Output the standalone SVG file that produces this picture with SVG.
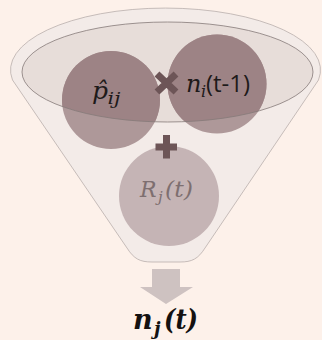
<svg xmlns="http://www.w3.org/2000/svg" width="322" height="340" viewBox="0 0 322 340">
  <style>
    .math { font-family: "DejaVu Serif", "Liberation Serif", serif; font-style: italic; }
    .sans { font-family: "Open Sans", "Liberation Sans", sans-serif; }
    .op { stroke: #6d5557; stroke-width: 7; fill: none; }
    .upper { fill: #ae9899; }
  </style>
  <defs>
    <clipPath id="rimClip">
      <ellipse cx="167.5" cy="72" rx="145.5" ry="50"/>
    </clipPath>
  </defs>
  <rect width="322" height="340" fill="#fdf1ea"/>

  <g id="funnel">
    <path d="M 12.5,80 A 155 62 0 1 1 318.5,80 L 205,248 C 198,259 192,262 180,262 L 152,262 C 140,262 134,259 127,248 Z" fill="#f3ebe8" stroke="#b9afac" stroke-width="0.8"/>
    <ellipse cx="167.5" cy="72" rx="145.5" ry="50" fill="#e7ddd9"/>
  </g>

  <g id="node-p-ij">
    <circle class="upper" cx="111" cy="100" r="49"/>
    <circle cx="111" cy="100" r="49" fill="#9d8385" clip-path="url(#rimClip)"/>
  </g>
  <g id="node-n-i">
    <circle class="upper" cx="217" cy="84" r="49.5"/>
    <circle cx="217" cy="84" r="49.5" fill="#9d8385" clip-path="url(#rimClip)"/>
  </g>
  <g id="rim">
    <ellipse cx="167.5" cy="72" rx="145.5" ry="50" fill="none" stroke="#857a79" stroke-width="0.8"/>
  </g>
  <g id="node-R-j">
    <circle cx="169" cy="196" r="50" fill="#c5b4b5"/>
  </g>

  <g id="labels">
    <text class="math" x="92" y="99" font-size="25" fill="#1e1a1a">p̂</text>
    <text class="math" x="107.5" y="104" font-size="16" fill="#1e1a1a" textLength="13" lengthAdjust="spacingAndGlyphs">ij</text>
    <text class="math" x="186" y="92" font-size="24" fill="#1e1a1a">n</text>
    <text class="math" x="201" y="97" font-size="16" fill="#1e1a1a">i</text>
    <text class="sans" x="206" y="92" font-size="23" fill="#1e1a1a" textLength="44" lengthAdjust="spacingAndGlyphs">(t-1)</text>
    <text class="math" x="140" y="197" font-size="22" fill="#7e6f70">R</text>
    <text class="math" x="158" y="202" font-size="15" fill="#7e6f70">j</text>
    <text class="math" x="165" y="197" font-size="22" fill="#7e6f70" textLength="28" lengthAdjust="spacingAndGlyphs">(t)</text>
  </g>

  <g id="operators">
    <path class="op" d="M 157,74 L 176,92 M 176,74 L 157,92"/>
    <path class="op" d="M 155.5,147 H 177 M 166.5,135 V 158.5"/>
  </g>

  <g id="connectors">
    <polygon points="152,269 180,269 180,287 193,287 166,304 140,287 152,287" fill="#cec2c1"/>
  </g>

  <g id="node-output">
    <text class="math" x="133" y="329" font-size="27" font-weight="bold" fill="#141111">n</text>
    <text class="math" x="154" y="335" font-size="18" font-weight="bold" fill="#141111">j</text>
    <text class="math" x="164" y="329" font-size="27" font-weight="bold" fill="#141111" textLength="34" lengthAdjust="spacingAndGlyphs">(t)</text>
  </g>
</svg>
